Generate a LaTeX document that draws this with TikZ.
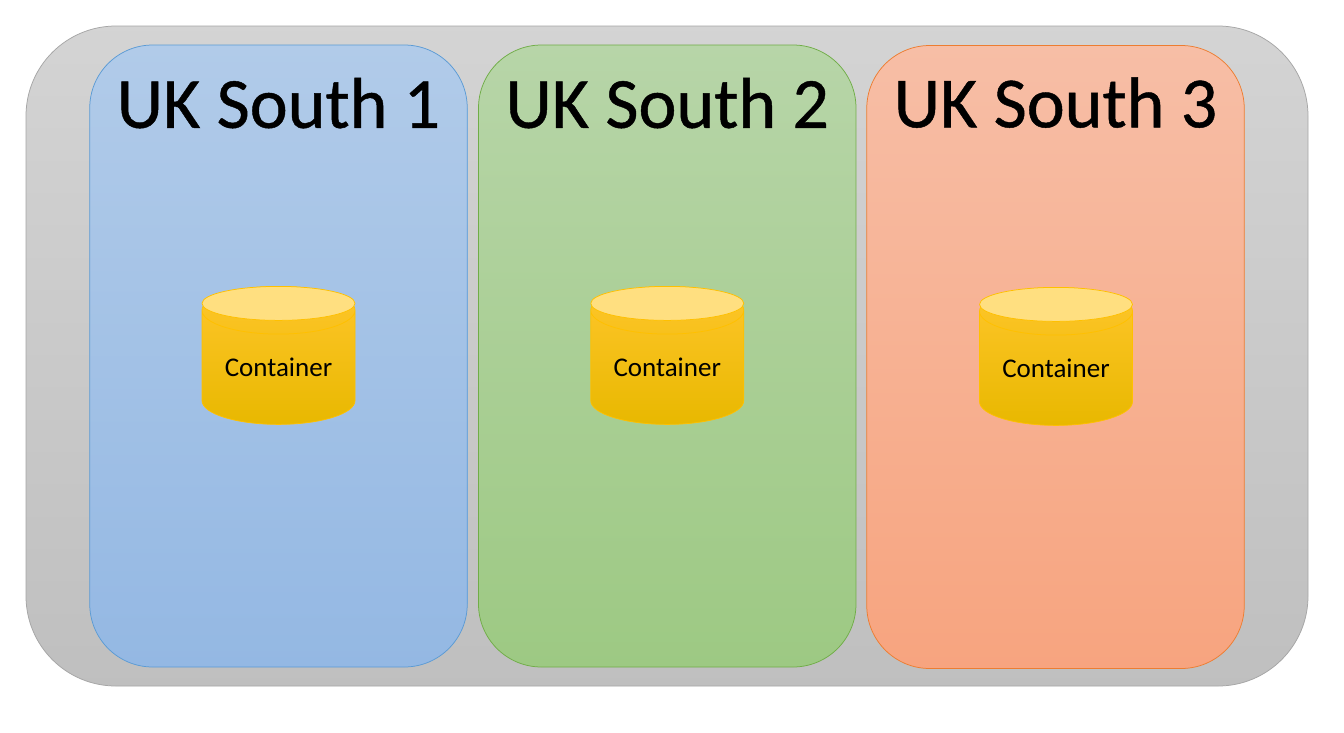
\documentclass[tikz,border=0pt]{standalone}
\usepackage{fontspec}
\setmainfont{Carlito}
\newfontfamily\titlefont[FakeBold=0.6]{Carlito}
\usetikzlibrary{positioning,shapes.geometric}
\definecolor{zonegray}{HTML}{A6A6A6}
\definecolor{zoneblue}{HTML}{5B9BD5}
\definecolor{zonegreen}{HTML}{70AD47}
\definecolor{zoneorange}{HTML}{ED7D31}
\definecolor{drumedge}{HTML}{FFC000}
\definecolor{drumhigh}{HTML}{FFC62B}
\definecolor{drumlow}{HTML}{E8B800}
\definecolor{bluetop}{HTML}{B1CBE9}
\definecolor{bluebot}{HTML}{94B8E3}
\definecolor{greentop}{HTML}{B7D5A8}
\definecolor{greenbot}{HTML}{9DC983}
\definecolor{orangetop}{HTML}{F7BEA6}
\definecolor{orangebot}{HTML}{F7A47F}
\tikzset{
	zone base/.style={draw, rectangle, rounded corners=63pt, line width=0.75pt, minimum width=377.5pt, minimum height=622pt},
	zone title/.style={font=\titlefont\fontsize{72}{76}\selectfont, inner sep=0pt},
	drum body/.style={draw=drumedge, cylinder, shape border rotate=90, shape aspect=0.444, minimum width=153pt, minimum height=138pt, inner sep=0pt, line width=0.75pt, top color=drumhigh, middle color=drumedge, bottom color=drumlow, font=\fontsize{27}{30}\selectfont},
	drum top/.style={draw=drumedge, ellipse, fill=drumedge!50!white, minimum width=153pt, minimum height=34pt, inner sep=0pt, line width=0.75pt},
}

\begin{document}
\begin{tikzpicture}
	\useasboundingbox (0pt,0pt) rectangle (1344pt,-732pt);
	\fill [white] (0pt,0pt) rectangle (1344pt,-732pt);
	% Outer region
	\node [draw=zonegray,rectangle,rounded corners=90pt,line width=0.75pt,minimum width=1282pt,minimum height=660pt,top color=black!17,bottom color=black!25] (region) at (667pt,-356pt) {};
	% Zones
	\node [zone base,draw=zoneblue,top color=bluetop,bottom color=bluebot] (south1) at (278.5pt,-356pt) {};
	\node [zone base,draw=zonegreen,top color=greentop,bottom color=greenbot,right=10.5pt of south1] (south2) {};
	\node [zone base,draw=zoneorange,top color=orangetop,bottom color=orangebot,minimum height=623pt,right=10pt of south2,yshift=-1pt] (south3) {};

	\node [zone title,below=33pt of south1.north] (title1) {UK South 1};
	\node [zone title,below=33pt of south2.north] (title2) {UK South 2};
	\node [zone title,below=32pt of south3.north] (title3) {UK South 3};

	% Containers
	\node [drum body,yshift=-11.5pt] (drum1) at (south1.center) {Container};
	\node [drum top,below=0pt of drum1.north] (lid1) {};
	\node [drum body,yshift=-11.5pt] (drum2) at (south2.center) {Container};
	\node [drum top,below=0pt of drum2.north] (lid2) {};
	\node [drum body,xshift=0.5pt,yshift=-11.5pt] (drum3) at (south3.center) {Container};
	\node [drum top,below=0pt of drum3.north] (lid3) {};
\end{tikzpicture}
\end{document}
